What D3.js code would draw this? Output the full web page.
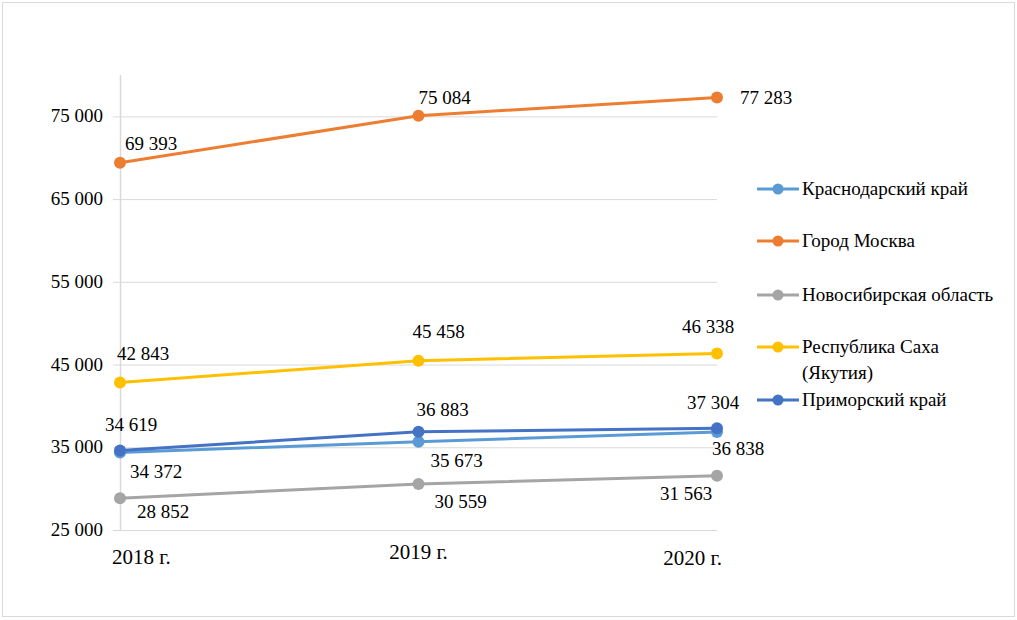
<!DOCTYPE html>
<head>
<meta charset="utf-8">
<script src="https://d3js.org/d3.v7.min.js"></script>
<style>
  body { margin: 0; background: #fff; }
  .grid line { stroke: #d9d9d9; stroke-width: 1px; }
  .line { fill: none; stroke-width: 3px; }
</style>
</head>
<body>
<svg width="1017" height="620"></svg>
<script>
// Data
var years = ["2018 г.", "2019 г.", "2020 г."];
var regions = ["Краснодарский край", "Город Москва", "Новосибирская область", "Республика Саха (Якутия)", "Приморский край"];
var krasnodar = [34372, 35673, 36838];
var moscow = [69393, 75084, 77283];
var novosibirsk = [28852, 30559, 31563];
var sakha = [42843, 45458, 46338];
var primorsky = [34619, 36883, 37304];
var yTicks = [25000, 35000, 45000, 55000, 65000, 75000];

var seriesValues = [krasnodar, moscow, novosibirsk, sakha, primorsky];
var colors = ["#5b9bd5", "#ed7d31", "#a5a5a5", "#ffc000", "#4472c4"];
var FONT = "'Liberation Serif'";

// label offsets [dx, dy] per series / point
var labelPos = [
  [[10, 26], [12, 25], [-5, 23]],
  [[5, -13], [0, -12], [23, 7]],
  [[17, 20], [16, 24], [-57, 24]],
  [[-3, -22], [-6, -23], [-35, -20]],
  [[-15, -19], [-2, -16], [-30, -19]]
];

var svg = d3.select("svg");

// all text goes straight into the svg, serif font forced
function label(sel) {
  return sel.style("font-family", FONT, "important").attr("fill", "#000");
}

// frame
svg.append("rect")
  .attr("x", 2.5).attr("y", 2.5)
  .attr("width", 1012).attr("height", 614)
  .attr("fill", "none").attr("stroke", "#d9d9d9");

var x = d3.scalePoint().domain(years).range([120, 717]);
var y = d3.scaleLinear().domain([25000, 80000]).range([530, 75]);

var fmt = function(v) { return d3.format(",")(v).replace(",", " "); };

// gridlines
yTicks.forEach(function(d) {
  svg.append("line")
    .attr("x1", 113).attr("x2", 717)
    .attr("y1", y(d) + 0.5).attr("y2", y(d) + 0.5)
    .attr("stroke", "#d9d9d9");
});

// y axis line
svg.append("line")
  .attr("x1", 120.5).attr("x2", 120.5)
  .attr("y1", 75).attr("y2", 530)
  .attr("stroke", "#d9d9d9").attr("stroke-width", 1.5);

yTicks.forEach(function(d) {
  label(svg.append("text"))
    .attr("x", 103).attr("y", y(d) + 6)
    .attr("text-anchor", "end")
    .style("font-size", "19px")
    .text(fmt(d));
});

// x labels
var xAnchor = ["start", "middle", "end"];
var xDx = [-8, 0, 5];
var xDy = [34, 29, 35];
years.forEach(function(d, i) {
  label(svg.append("text"))
    .attr("x", x(d) + xDx[i]).attr("y", 530 + xDy[i])
    .attr("text-anchor", xAnchor[i])
    .style("font-size", "21px")
    .text(d);
});

var line = d3.line()
  .x(function(d, i) { return x(years[i]); })
  .y(function(d) { return y(d); });

seriesValues.forEach(function(vals, s) {
  svg.append("path").datum(vals)
    .attr("class", "line")
    .attr("stroke", colors[s])
    .attr("d", line);
  vals.forEach(function(v, i) {
    svg.append("circle")
      .attr("cx", x(years[i])).attr("cy", y(v))
      .attr("r", 6)
      .attr("fill", colors[s]);
  });
});

seriesValues.forEach(function(vals, s) {
  vals.forEach(function(v, i) {
    label(svg.append("text"))
      .attr("x", x(years[i]) + labelPos[s][i][0])
      .attr("y", y(v) + labelPos[s][i][1])
      .style("font-size", "19px")
      .text(fmt(v));
  });
});

// legend
var legY = [189, 241, 295, 347, 400];
regions.forEach(function(name, i) {
  var gy = legY[i];
  svg.append("line")
    .attr("x1", 757).attr("x2", 799)
    .attr("y1", gy).attr("y2", gy)
    .attr("stroke", colors[i]).attr("stroke-width", 3);
  svg.append("circle")
    .attr("cx", 778).attr("cy", gy).attr("r", 5.5)
    .attr("fill", colors[i]);
  if (i === 3) {
    label(svg.append("text")).attr("x", 802).attr("y", gy + 6)
      .style("font-size", "19px").text("Республика Саха");
    label(svg.append("text")).attr("x", 802).attr("y", gy + 32)
      .style("font-size", "19px").text("(Якутия)");
  } else {
    label(svg.append("text")).attr("x", 802).attr("y", gy + 6)
      .style("font-size", "19px").text(name);
  }
});
</script>
</body>
</html>
